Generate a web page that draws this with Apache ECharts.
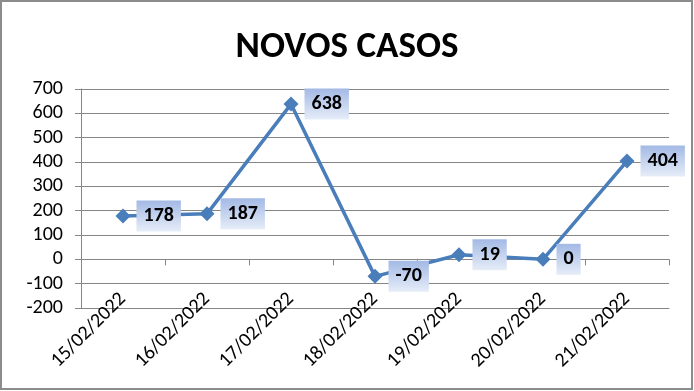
<!DOCTYPE html>
<html><head><meta charset="utf-8">
<script src="https://cdn.jsdelivr.net/npm/echarts@6/dist/echarts.min.js"></script>
<style>html,body{margin:0;padding:0;background:#fff}#c{width:694px;height:391px}</style>
</head><body><div id="c"></div>
<script>
const title = 'NOVOS CASOS';
const categories = ['15/02/2022','16/02/2022','17/02/2022','18/02/2022','19/02/2022','20/02/2022','21/02/2022'];
const values = [178, 187, 638, -70, 19, 0, 404];
const yTicks = [-200, -100, 0, 100, 200, 300, 400, 500, 600, 700];

const chart = echarts.init(document.getElementById('c'));
const FONT = 'Carlito, Calibri, Lato, sans-serif';
chart.setOption({
  animation: false,
  backgroundColor: '#fff',
  graphic: [{type:'rect', shape:{x:1,y:1,width:691,height:388}, style:{fill:'none', stroke:'#8c8c8c', lineWidth:2}, z:100}],
  title: {text: title, left: 'center', top: 24, textStyle: {fontFamily: FONT, fontWeight: 'bold', fontSize: 37, color: '#000'}},
  grid: {left: 81, right: 25, top: 89, bottom: 83},
  xAxis: [{
    type: 'category', data: categories, boundaryGap: true,
    axisLine: {onZero: false, lineStyle: {color: '#868686'}},
    axisTick: {show: false},
    axisLabel: {rotate: 45, interval: 0, margin: -12, fontFamily: FONT, fontSize: 20, color: '#000'}
  },{
    type: 'category', data: categories, boundaryGap: true, position: 'bottom',
    axisLine: {onZero: true, lineStyle: {color: '#868686'}},
    axisTick: {show: true, length: 6, interval: 0, lineStyle: {color: '#868686'}},
    axisLabel: {show: false}
  }],
  yAxis: {
    type: 'value', min: yTicks[0], max: yTicks[yTicks.length-1], interval: 100,
    axisLine: {show: true, lineStyle: {color: '#868686'}},
    axisTick: {show: true, length: 6, lineStyle: {color: '#868686'}},
    splitLine: {lineStyle: {color: '#868686'}},
    axisLabel: {fontFamily: FONT, fontSize: 20, color: '#000', margin: 18}
  },
  series: [{
    type: 'line', data: values, xAxisIndex: 0,
    symbol: 'diamond', symbolSize: 15,
    itemStyle: {color: '#4a7ebb'},
    lineStyle: {color: '#4a7ebb', width: 3.5},
    label: {
      show: true, position: 'right', distance: 6,
      fontFamily: FONT, fontWeight: 'bold', fontSize: 20, color: '#000',
      padding: [6, 7, 5, 7],
      backgroundColor: {type:'linear', x:0, y:0, x2:0, y2:1, colorStops:[{offset:0,color:'#a3b9e5'},{offset:1,color:'#e6edf8'}]}
    }
  }]
});
</script></body></html>
